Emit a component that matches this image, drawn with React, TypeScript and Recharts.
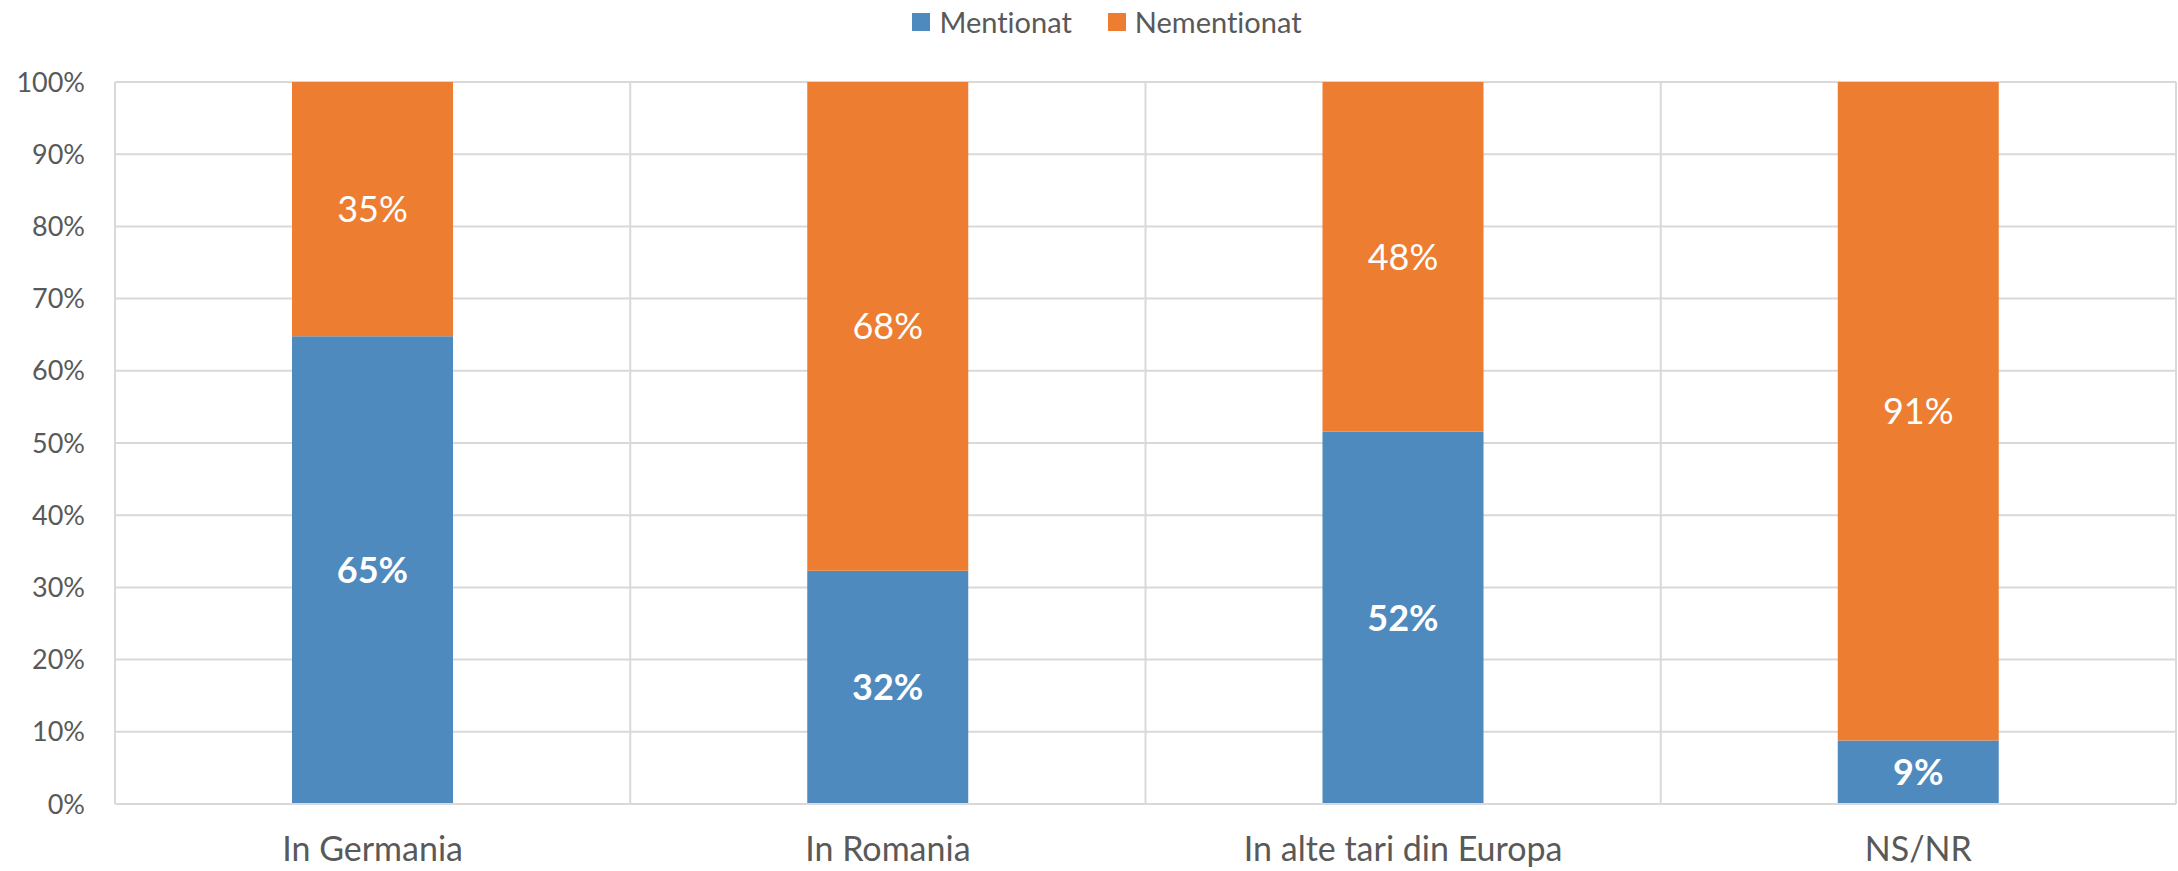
import React from "react";
import {
  BarChart,
  Bar,
  XAxis,
  YAxis,
  CartesianGrid,
  Legend,
  LabelList
} from "recharts";

// categorii si valori (procente)
const categories = ["In Germania", "In Romania", "In alte tari din Europa", "NS/NR"];
const mentionat = [64.8, 32.3, 51.6, 8.8];
const nementionat = [35.2, 67.7, 48.4, 91.2];
const yTicks = [0, 10, 20, 30, 40, 50, 60, 70, 80, 90, 100];

const seriesNames = { mentionat: "Mentionat", nementionat: "Nementionat" };
const BLUE = "#4F8ABE";
const ORANGE = "#ED7D31";
const TEXT = "#595959";
const GRID = "#D9D9D9";

const data = categories.map((name, i) => ({
  name,
  mentionat: mentionat[i],
  nementionat: nementionat[i]
}));

const fmtPct = (v: any) => `${Math.round(Number(v))}%`;

function LegendContent() {
  const items = [
    { label: seriesNames.mentionat, color: BLUE },
    { label: seriesNames.nementionat, color: ORANGE }
  ];
  return (
    <div style={{ display: "flex", justifyContent: "center", alignItems: "center", gap: 36 }}>
      {items.map((it) => (
        <div key={it.label} style={{ display: "flex", alignItems: "center" }}>
          <span style={{ width: 18, height: 18, background: it.color, display: "inline-block", marginRight: 9 }} />
          <span style={{ fontSize: 29, color: TEXT, lineHeight: "30px" }}>{it.label}</span>
        </div>
      ))}
    </div>
  );
}

export default function App() {
  return (
    <div
      style={{
        position: "absolute",
        left: 0,
        top: 0,
        width: 2178,
        height: 871,
        background: "#fff",
        fontFamily: "Lato, sans-serif",
        fontVariantLigatures: "none"
      }}
    >
      <BarChart
        width={2178}
        height={871}
        data={data}
        margin={{ top: 52, right: 2, left: 0, bottom: 0 }}
        barSize={161}
      >
        <CartesianGrid
          stroke={GRID}
          strokeWidth={2}
          verticalCoordinatesGenerator={({ offset }: any) =>
            categories.map((_, i) => offset.left + (i * offset.width) / categories.length).concat(offset.left + offset.width)
          }
        />
        <XAxis
          dataKey="name"
          height={67}
          axisLine={{ stroke: GRID, strokeWidth: 2 }}
          tickLine={false}
          tickSize={0}
          tickMargin={33}
          tick={{ fill: TEXT, fontSize: 34 }}
          interval={0}
        />
        <YAxis
          width={115}
          domain={[0, 100]}
          ticks={yTicks}
          tickFormatter={(v: any) => `${v}%`}
          axisLine={false}
          tickLine={false}
          tickSize={0}
          tickMargin={30}
          tick={{ fill: TEXT, fontSize: 27 }}
          interval={0}
        />
        <Legend
          verticalAlign="top"
          content={<LegendContent />}
          wrapperStyle={{ top: 7, left: 19 }}
        />
        <Bar dataKey="mentionat" name={seriesNames.mentionat} stackId="a" fill={BLUE} isAnimationActive={false}>
          <LabelList dataKey="mentionat" position="center" formatter={fmtPct} fill="#fff" fontSize={36} fontWeight="bold" />
        </Bar>
        <Bar dataKey="nementionat" name={seriesNames.nementionat} stackId="a" fill={ORANGE} isAnimationActive={false}>
          <LabelList dataKey="nementionat" position="center" formatter={fmtPct} fill="#fff" fontSize={36} />
        </Bar>
      </BarChart>
    </div>
  );
}
